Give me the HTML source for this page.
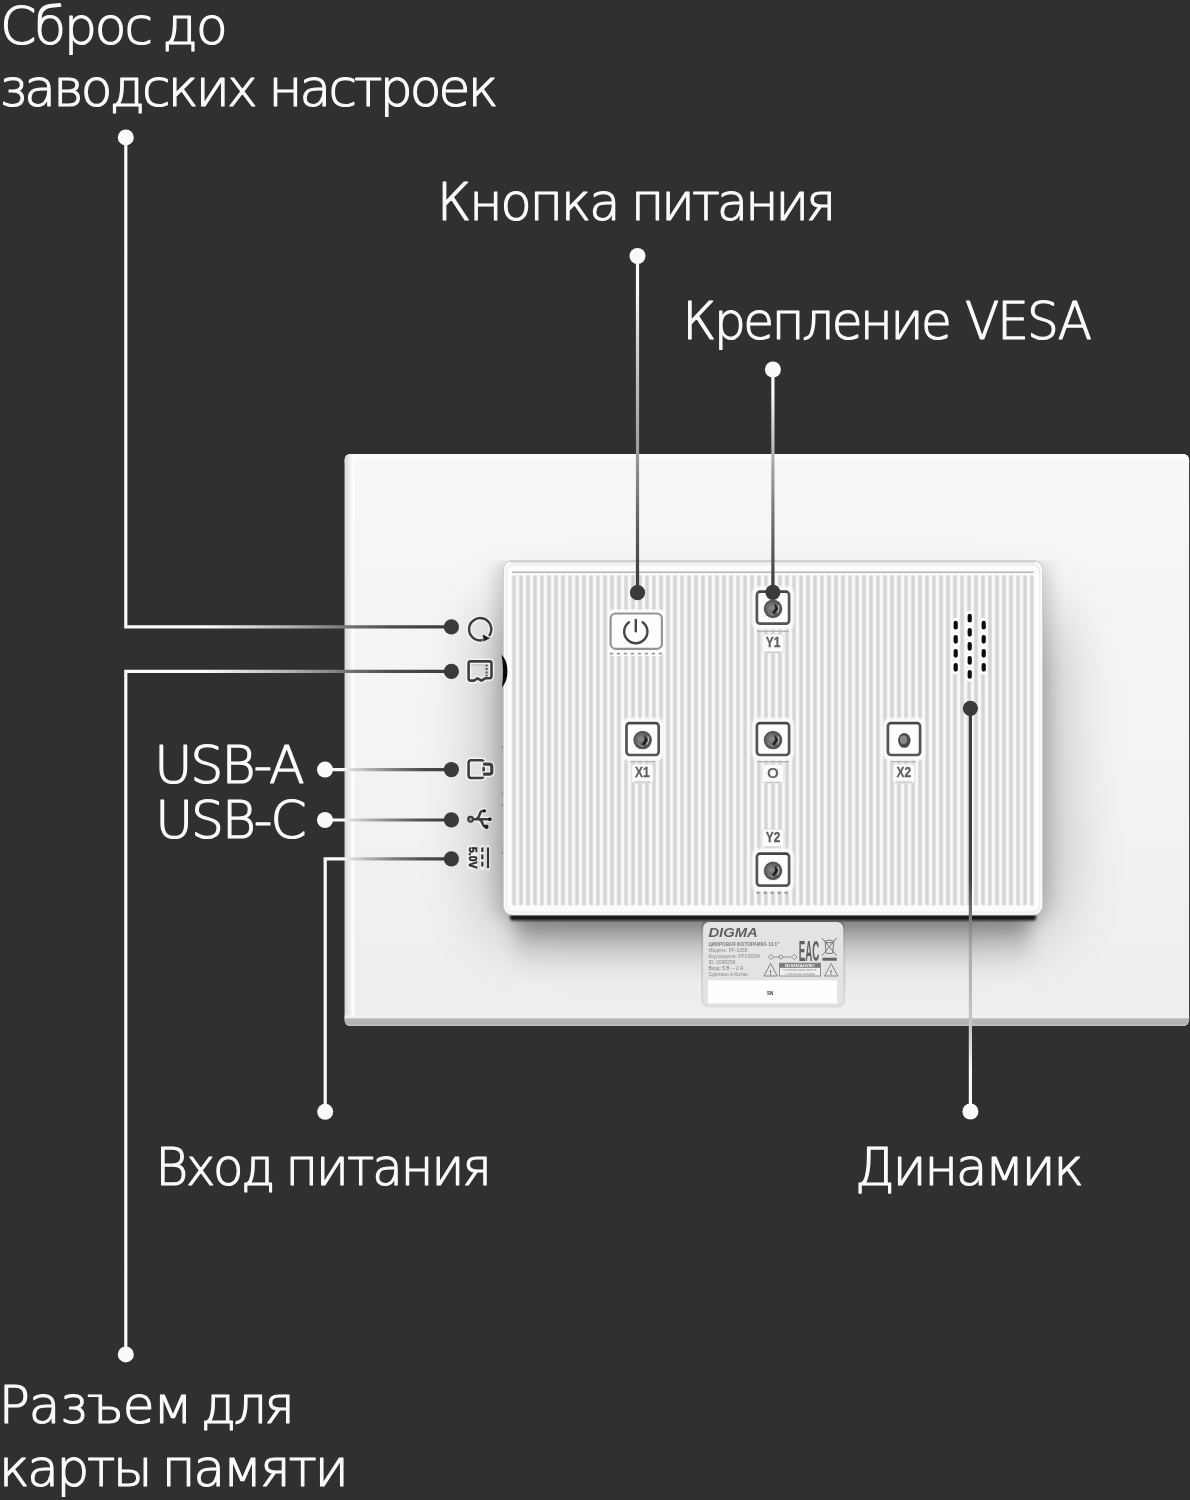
<!DOCTYPE html>
<html lang="ru">
<head>
<meta charset="utf-8">
<title>Digma — разъемы и кнопки</title>
<style>
html,body{margin:0;padding:0;background:#303032;}
body{width:1190px;height:1500px;overflow:hidden;}
svg{display:block;font-family:"Liberation Sans",sans-serif;will-change:transform;}
</style>
</head>
<body>
<svg width="1190" height="1500" viewBox="0 0 1190 1500">
<defs>
<linearGradient id="face" x1="0" y1="0" x2="0" y2="1">
<stop offset="0" stop-color="#f7f7f7"/><stop offset="0.45" stop-color="#f4f4f4"/><stop offset="1" stop-color="#eeeeee"/></linearGradient>
<linearGradient id="ledge" x1="0" y1="0" x2="1" y2="0">
<stop offset="0" stop-color="#d6d6d6"/><stop offset="0.45" stop-color="#ededed"/><stop offset="0.8" stop-color="#ffffff"/><stop offset="1" stop-color="#ffffff" stop-opacity="0"/></linearGradient>
<linearGradient id="bedge" x1="0" y1="0" x2="0" y2="1">
<stop offset="0" stop-color="#f4f4f4"/><stop offset="0.2" stop-color="#f0f0f0"/><stop offset="0.32" stop-color="#b6b6b6"/><stop offset="0.8" stop-color="#b2b2b2"/><stop offset="1" stop-color="#c8c8c8"/></linearGradient>
<linearGradient id="rib" x1="0" y1="0" x2="1" y2="0">
<stop offset="0" stop-color="#fcfcfc"/><stop offset="0.12" stop-color="#fcfcfc"/><stop offset="0.32" stop-color="#d5d5d5"/><stop offset="0.68" stop-color="#d5d5d5"/><stop offset="0.88" stop-color="#fcfcfc"/><stop offset="1" stop-color="#fcfcfc"/></linearGradient>
<pattern id="ribs" x="510.5" y="0" width="7" height="40" patternUnits="userSpaceOnUse"><rect x="0" y="0" width="7" height="40" fill="url(#rib)"/></pattern>
<linearGradient id="under" x1="0" y1="0" x2="0" y2="1">
<stop offset="0" stop-color="#000" stop-opacity="0.42"/><stop offset="0.16" stop-color="#000" stop-opacity="0.34"/><stop offset="0.4" stop-color="#000" stop-opacity="0.16"/><stop offset="0.7" stop-color="#000" stop-opacity="0.05"/><stop offset="1" stop-color="#000" stop-opacity="0"/></linearGradient>
<filter id="b5" x="-10%" y="-50%" width="120%" height="200%"><feGaussianBlur stdDeviation="5"/></filter>
<filter id="b05" x="-20%" y="-20%" width="140%" height="140%"><feGaussianBlur stdDeviation="0.6"/></filter>
<filter id="b3" x="-20%" y="-20%" width="140%" height="140%"><feGaussianBlur stdDeviation="3"/></filter>
<filter id="b8" x="-20%" y="-50%" width="140%" height="200%"><feGaussianBlur stdDeviation="9"/></filter>
<filter id="b30" x="-30%" y="-40%" width="160%" height="180%"><feGaussianBlur stdDeviation="35"/></filter>
<clipPath id="shclip"><rect x="344" y="560.5" width="846" height="470"/></clipPath>
<filter id="b1" x="-20%" y="-50%" width="140%" height="200%"><feGaussianBlur stdDeviation="1.1"/></filter>
<clipPath id="devclip"><rect x="344.5" y="454" width="844.7" height="572" rx="6"/></clipPath>
<radialGradient id="screw" cx="0.42" cy="0.45" r="0.6">
<stop offset="0" stop-color="#8e8e8e"/><stop offset="0.45" stop-color="#6a6a6a"/><stop offset="1" stop-color="#4a4a4a"/></radialGradient>
<linearGradient id="ring" x1="0" y1="0" x2="0" y2="1"><stop offset="0" stop-color="#5a5a5a"/><stop offset="0.12" stop-color="#9a9a9a"/><stop offset="0.4" stop-color="#c4c4c4"/><stop offset="1" stop-color="#dadada"/></linearGradient>
<linearGradient id="lg1" gradientUnits="userSpaceOnUse" x1="125.8" y1="0" x2="451.4" y2="0"><stop offset="0" stop-color="#fafafa"/><stop offset="0.25" stop-color="#fafafa"/><stop offset="0.5" stop-color="#b4b4b4"/><stop offset="0.68" stop-color="#747474"/><stop offset="0.82" stop-color="#4c4c4e"/><stop offset="1" stop-color="#3a3a3c"/></linearGradient>
<linearGradient id="lg2" gradientUnits="userSpaceOnUse" x1="125.8" y1="0" x2="451.4" y2="0"><stop offset="0" stop-color="#fafafa"/><stop offset="0.25" stop-color="#fafafa"/><stop offset="0.5" stop-color="#b4b4b4"/><stop offset="0.68" stop-color="#747474"/><stop offset="0.82" stop-color="#4c4c4e"/><stop offset="1" stop-color="#3a3a3c"/></linearGradient>
<linearGradient id="lg3" gradientUnits="userSpaceOnUse" x1="325" y1="0" x2="451.4" y2="0"><stop offset="0" stop-color="#fafafa"/><stop offset="0.14" stop-color="#fafafa"/><stop offset="0.2" stop-color="#dedede"/><stop offset="0.34" stop-color="#b4b4b4"/><stop offset="0.52" stop-color="#848484"/><stop offset="0.76" stop-color="#505052"/><stop offset="1" stop-color="#3a3a3c"/></linearGradient>
<linearGradient id="lg4" gradientUnits="userSpaceOnUse" x1="325" y1="0" x2="451.4" y2="0"><stop offset="0" stop-color="#fafafa"/><stop offset="0.14" stop-color="#fafafa"/><stop offset="0.2" stop-color="#dedede"/><stop offset="0.34" stop-color="#b4b4b4"/><stop offset="0.52" stop-color="#848484"/><stop offset="0.76" stop-color="#505052"/><stop offset="1" stop-color="#3a3a3c"/></linearGradient>
<linearGradient id="lg5" gradientUnits="userSpaceOnUse" x1="325" y1="0" x2="451.4" y2="0"><stop offset="0" stop-color="#fafafa"/><stop offset="0.14" stop-color="#fafafa"/><stop offset="0.2" stop-color="#dedede"/><stop offset="0.34" stop-color="#b4b4b4"/><stop offset="0.52" stop-color="#848484"/><stop offset="0.76" stop-color="#505052"/><stop offset="1" stop-color="#3a3a3c"/></linearGradient>
<linearGradient id="lg6" gradientUnits="userSpaceOnUse" x1="0" y1="256" x2="0" y2="592.7"><stop offset="0" stop-color="#fafafa"/><stop offset="0.1" stop-color="#fafafa"/><stop offset="0.27" stop-color="#d0d0d0"/><stop offset="0.59" stop-color="#9a9a9a"/><stop offset="0.78" stop-color="#646466"/><stop offset="0.92" stop-color="#464648"/><stop offset="1" stop-color="#3a3a3c"/></linearGradient>
<linearGradient id="lg7" gradientUnits="userSpaceOnUse" x1="0" y1="369.5" x2="0" y2="592.3"><stop offset="0" stop-color="#fafafa"/><stop offset="0.1" stop-color="#fafafa"/><stop offset="0.38" stop-color="#b2b2b2"/><stop offset="0.62" stop-color="#7c7c7c"/><stop offset="0.85" stop-color="#505052"/><stop offset="1" stop-color="#3a3a3c"/></linearGradient>
<linearGradient id="lg8" gradientUnits="userSpaceOnUse" x1="0" y1="708.4" x2="0" y2="1111.5"><stop offset="0" stop-color="#3a3a3c"/><stop offset="0.42" stop-color="#424244"/><stop offset="0.52" stop-color="#7a7a7a"/><stop offset="0.6" stop-color="#aaaaaa"/><stop offset="0.785" stop-color="#c6c6c6"/><stop offset="0.9" stop-color="#fafafa"/><stop offset="1" stop-color="#fafafa"/></linearGradient>
</defs>
<rect x="0" y="0" width="1190" height="1500" fill="#303032"/>
<g clip-path="url(#devclip)">
<rect x="344.5" y="454" width="845" height="572" fill="url(#face)"/>
<rect x="344.5" y="454" width="845" height="4.5" fill="#fefefe"/><rect x="344.5" y="458.5" width="845" height="4" fill="#f9f9f9"/>
<rect x="493" y="612" width="559" height="315" rx="14" fill="#000" opacity="0.29" filter="url(#b30)"/>
<g clip-path="url(#shclip)"><rect x="497" y="562" width="551" height="356" rx="10" fill="#000" opacity="0.16" filter="url(#b8)"/></g>
<path d="M503.2 572 V906" stroke="#8c8c8c" stroke-width="1.6" fill="none" filter="url(#b05)"/>
<rect x="516" y="912" width="514" height="62" rx="4" fill="url(#under)" filter="url(#b8)"/>
<rect x="344.5" y="454" width="11" height="572" fill="url(#ledge)"/>
<rect x="344.5" y="1015.5" width="845" height="10.5" fill="url(#bedge)"/>
</g>
<rect x="510" y="914.2" width="526" height="6.4" rx="3" fill="#131313" filter="url(#b1)"/>
<rect x="503.5" y="560.5" width="539" height="354.5" rx="9" fill="#fcfcfc" stroke="#cfcfcf" stroke-width="1"/>
<path d="M511 561.6 H1035" stroke="#d4d4d4" stroke-width="2.2" stroke-linecap="round" fill="none"/>
<rect x="506.3" y="564.6" width="533.4" height="347.6" rx="7" fill="none" stroke="#eeeeee" stroke-width="1.6"/>
<rect x="511.6" y="575.2" width="522.4" height="330" rx="1.5" fill="url(#ribs)"/>
<rect x="512" y="571.4" width="521.6" height="1.7" fill="#b9b9b9"/>
<rect x="608.2" y="609.4" width="56.6" height="46.6" rx="5" fill="#fcfcfc" filter="url(#b05)"/>
<rect x="610.6" y="613.5" width="51.3" height="35.3" rx="5" fill="#fdfdfd" stroke="#939393" stroke-width="2.2"/>
<path d="M628.98 622.22 A11.6 11.6 0 1 0 642.62 622.22" fill="none" stroke="#464646" stroke-width="2.4" stroke-linecap="round"/>
<line x1="635.8" y1="620" x2="635.8" y2="631.2" stroke="#464646" stroke-width="2.4" stroke-linecap="round"/>
<line x1="609.8" y1="653.6" x2="663.5" y2="653.6" stroke="#969696" stroke-width="1.9" stroke-dasharray="3.2 3.8"/>
<rect x="752" y="586.6" width="42" height="42.6" rx="7" fill="#fcfcfc" filter="url(#b1)"/>
<rect x="756.9" y="591.7" width="32.2" height="32" rx="3.2" fill="#fdfdfd" stroke="#555555" stroke-width="2.7"/>
<rect x="758" y="590.8" width="30" height="2.2" rx="1" fill="#444"/>
<circle cx="773" cy="608.8" r="9.7" fill="#d0d0d0"/>
<circle cx="773" cy="608.8" r="8.9" fill="url(#screw)"/>
<circle cx="773" cy="608.8" r="8.3" fill="none" stroke="#525252" stroke-width="1.4"/>
<path d="M774.8 603.4 L778 608.5999999999999 L774 614.4 L772.4 612.5999999999999 L775.2 608.8 Z" fill="#1c1c1c"/>
<path d="M778.4 604.9 Q780.1 608.8 777.5 613.3" fill="none" stroke="#c9c9c9" stroke-width="1"/>
<path d="M768.2 611.8 Q770.8 615.0999999999999 773.8 615.4" fill="none" stroke="#a5a5a5" stroke-width="0.9"/>
<rect x="757" y="630.6" width="32" height="1.5" fill="#b5b5b5"/>
<rect x="762" y="634.3" width="22" height="19" rx="3" fill="#fbfbfb" stroke="#dcdcdc" stroke-width="0.8" filter="url(#b05)"/>
<rect x="765" y="651.5999999999999" width="16" height="1.2" fill="#c4c4c4"/>
<text x="773" y="647.4" font-size="15.2" font-weight="bold" text-anchor="middle" textLength="14.6" lengthAdjust="spacingAndGlyphs" fill="#5e5e5e" stroke="#5e5e5e" stroke-width="0.3">Y1</text>
<rect x="621.6" y="717.9" width="42" height="42.6" rx="7" fill="#fcfcfc" filter="url(#b1)"/>
<rect x="626.5" y="723.0" width="32.2" height="32" rx="3.2" fill="#fdfdfd" stroke="#555555" stroke-width="2.7"/>
<rect x="627.6" y="722.0999999999999" width="30" height="2.2" rx="1" fill="#444"/>
<circle cx="642.6" cy="740.0999999999999" r="9.7" fill="#d0d0d0"/>
<circle cx="642.6" cy="740.0999999999999" r="8.9" fill="url(#screw)"/>
<circle cx="642.6" cy="740.0999999999999" r="8.3" fill="none" stroke="#525252" stroke-width="1.4"/>
<path d="M644.4 734.6999999999999 L647.6 739.8999999999999 L643.6 745.6999999999999 L642.0 743.8999999999999 L644.8000000000001 740.0999999999999 Z" fill="#1c1c1c"/>
<path d="M648.0 736.1999999999999 Q649.7 740.0999999999999 647.1 744.5999999999999" fill="none" stroke="#c9c9c9" stroke-width="1"/>
<path d="M637.8000000000001 743.0999999999999 Q640.4 746.3999999999999 643.4 746.6999999999999" fill="none" stroke="#a5a5a5" stroke-width="0.9"/>
<rect x="630" y="761" width="25" height="1.3" fill="#b5b5b5"/>
<rect x="631.3" y="764.1" width="22" height="19" rx="3" fill="#fbfbfb" stroke="#dcdcdc" stroke-width="0.8" filter="url(#b05)"/>
<rect x="634.3" y="781.4" width="16" height="1.2" fill="#c4c4c4"/>
<text x="642.3" y="777.2" font-size="15.2" font-weight="bold" text-anchor="middle" textLength="14.6" lengthAdjust="spacingAndGlyphs" fill="#5e5e5e" stroke="#5e5e5e" stroke-width="0.3">X1</text>
<rect x="752" y="717.9" width="42" height="42.6" rx="7" fill="#fcfcfc" filter="url(#b1)"/>
<rect x="756.9" y="723.0" width="32.2" height="32" rx="3.2" fill="#fdfdfd" stroke="#555555" stroke-width="2.7"/>
<rect x="758" y="722.0999999999999" width="30" height="2.2" rx="1" fill="#444"/>
<circle cx="773" cy="740.0999999999999" r="9.7" fill="#d0d0d0"/>
<circle cx="773" cy="740.0999999999999" r="8.9" fill="url(#screw)"/>
<circle cx="773" cy="740.0999999999999" r="8.3" fill="none" stroke="#525252" stroke-width="1.4"/>
<path d="M774.8 734.6999999999999 L778 739.8999999999999 L774 745.6999999999999 L772.4 743.8999999999999 L775.2 740.0999999999999 Z" fill="#1c1c1c"/>
<path d="M778.4 736.1999999999999 Q780.1 740.0999999999999 777.5 744.5999999999999" fill="none" stroke="#c9c9c9" stroke-width="1"/>
<path d="M768.2 743.0999999999999 Q770.8 746.3999999999999 773.8 746.6999999999999" fill="none" stroke="#a5a5a5" stroke-width="0.9"/>
<rect x="757" y="761" width="32" height="1.5" fill="#b5b5b5"/>
<rect x="762" y="764.4" width="22" height="19" rx="3" fill="#fbfbfb" stroke="#dcdcdc" stroke-width="0.8" filter="url(#b05)"/>
<rect x="765" y="781.6999999999999" width="16" height="1.2" fill="#c4c4c4"/>
<text x="773" y="778.0" font-size="15.2" font-weight="bold" text-anchor="middle" fill="#666666">O</text>
<rect x="883" y="717.9" width="42" height="42.6" rx="7" fill="#fcfcfc" filter="url(#b1)"/>
<rect x="887.9" y="723.0" width="32.2" height="32" rx="3.2" fill="#fdfdfd" stroke="#555555" stroke-width="2.7"/>
<rect x="889" y="722.0999999999999" width="30" height="2.2" rx="1" fill="#444"/>
<ellipse cx="904.3" cy="740.3999999999999" rx="6.2" ry="7.4" fill="#4a4a4a"/>
<ellipse cx="903.5" cy="739.6999999999999" rx="3.6" ry="4.3" fill="#8a8a8a"/>
<rect x="891" y="761" width="25" height="1.3" fill="#b5b5b5"/>
<rect x="892.8" y="764.1" width="22" height="19" rx="3" fill="#fbfbfb" stroke="#dcdcdc" stroke-width="0.8" filter="url(#b05)"/>
<rect x="895.8" y="781.4" width="16" height="1.2" fill="#c4c4c4"/>
<text x="903.8" y="777.2" font-size="15.2" font-weight="bold" text-anchor="middle" textLength="14.6" lengthAdjust="spacingAndGlyphs" fill="#5e5e5e" stroke="#5e5e5e" stroke-width="0.3">X2</text>
<rect x="762" y="829.2" width="22" height="19" rx="3" fill="#fbfbfb" stroke="#dcdcdc" stroke-width="0.8" filter="url(#b05)"/>
<rect x="765" y="846.5" width="16" height="1.2" fill="#c4c4c4"/>
<text x="773" y="842.3000000000001" font-size="15.2" font-weight="bold" text-anchor="middle" textLength="14.6" lengthAdjust="spacingAndGlyphs" fill="#5e5e5e" stroke="#5e5e5e" stroke-width="0.3">Y2</text>
<rect x="752" y="848.6" width="42" height="42.6" rx="7" fill="#fcfcfc" filter="url(#b1)"/>
<rect x="756.9" y="853.7" width="32.2" height="32" rx="3.2" fill="#fdfdfd" stroke="#555555" stroke-width="2.7"/>
<rect x="758" y="852.8" width="30" height="2.2" rx="1" fill="#444"/>
<circle cx="773" cy="870.8" r="9.7" fill="#d0d0d0"/>
<circle cx="773" cy="870.8" r="8.9" fill="url(#screw)"/>
<circle cx="773" cy="870.8" r="8.3" fill="none" stroke="#525252" stroke-width="1.4"/>
<path d="M774.8 865.4 L778 870.5999999999999 L774 876.4 L772.4 874.5999999999999 L775.2 870.8 Z" fill="#1c1c1c"/>
<path d="M778.4 866.9 Q780.1 870.8 777.5 875.3" fill="none" stroke="#c9c9c9" stroke-width="1"/>
<path d="M768.2 873.8 Q770.8 877.0999999999999 773.8 877.4" fill="none" stroke="#a5a5a5" stroke-width="0.9"/>
<line x1="756.5" y1="892.8" x2="790" y2="892.8" stroke="#969696" stroke-width="1.9" stroke-dasharray="3.2 3.8"/>
<rect x="951.7" y="618.0" width="8" height="14.4" rx="4" fill="#fdfdfd"/>
<rect x="951.7" y="632.0999999999999" width="8" height="14.4" rx="4" fill="#fdfdfd"/>
<rect x="951.7" y="646.0999999999999" width="8" height="14.4" rx="4" fill="#fdfdfd"/>
<rect x="951.7" y="660.0999999999999" width="8" height="14.4" rx="4" fill="#fdfdfd"/>
<rect x="965.7" y="611.0" width="8" height="14.4" rx="4" fill="#fdfdfd"/>
<rect x="965.7" y="625.0999999999999" width="8" height="14.4" rx="4" fill="#fdfdfd"/>
<rect x="965.7" y="639.0999999999999" width="8" height="14.4" rx="4" fill="#fdfdfd"/>
<rect x="965.7" y="653.1999999999999" width="8" height="14.4" rx="4" fill="#fdfdfd"/>
<rect x="965.7" y="667.1999999999999" width="8" height="14.4" rx="4" fill="#fdfdfd"/>
<rect x="979.7" y="618.0" width="8" height="14.4" rx="4" fill="#fdfdfd"/>
<rect x="979.7" y="632.0999999999999" width="8" height="14.4" rx="4" fill="#fdfdfd"/>
<rect x="979.7" y="646.0999999999999" width="8" height="14.4" rx="4" fill="#fdfdfd"/>
<rect x="979.7" y="660.0999999999999" width="8" height="14.4" rx="4" fill="#fdfdfd"/>
<rect x="953.6" y="620.8000000000001" width="4.2" height="8.8" rx="2.1" fill="#0c0c0c"/>
<rect x="953.6" y="634.9" width="4.2" height="8.8" rx="2.1" fill="#0c0c0c"/>
<rect x="953.6" y="648.9" width="4.2" height="8.8" rx="2.1" fill="#0c0c0c"/>
<rect x="953.6" y="662.9" width="4.2" height="8.8" rx="2.1" fill="#0c0c0c"/>
<rect x="967.6" y="613.8000000000001" width="4.2" height="8.8" rx="2.1" fill="#0c0c0c"/>
<rect x="967.6" y="627.9" width="4.2" height="8.8" rx="2.1" fill="#0c0c0c"/>
<rect x="967.6" y="641.9" width="4.2" height="8.8" rx="2.1" fill="#0c0c0c"/>
<rect x="967.6" y="656.0" width="4.2" height="8.8" rx="2.1" fill="#0c0c0c"/>
<rect x="967.6" y="670.0" width="4.2" height="8.8" rx="2.1" fill="#0c0c0c"/>
<rect x="981.6" y="620.8000000000001" width="4.2" height="8.8" rx="2.1" fill="#0c0c0c"/>
<rect x="981.6" y="634.9" width="4.2" height="8.8" rx="2.1" fill="#0c0c0c"/>
<rect x="981.6" y="648.9" width="4.2" height="8.8" rx="2.1" fill="#0c0c0c"/>
<rect x="981.6" y="662.9" width="4.2" height="8.8" rx="2.1" fill="#0c0c0c"/>
<path d="M483.3 639.9 A11.1 11.1 0 1 1 489.6 635.1" fill="none" stroke="#f7f7f7" stroke-width="5.5" stroke-linecap="round" stroke-linejoin="round" opacity="0.85"/>
<path d="M483.3 639.9 A11.1 11.1 0 1 1 489.6 635.1" fill="none" stroke="#3e3e3e" stroke-width="2.5" stroke-linecap="round" stroke-linejoin="round" />
<circle cx="479.4" cy="629.4" r="8" fill="#e2e2e2" opacity="0.6"/>
<path d="M482.4 633.9 L490.6 638.3 L483.2 642.1 Z" fill="#1e1e1e" stroke="#f7f7f7" stroke-width="0.6"/>
<path d="M468.6 663.3 Q468.6 661.4 470.5 661.4 L489.6 661.4 Q491.5 661.4 491.5 663.3 L491.5 676.3 Q491.5 678.3 489.5 678.3 L485.2 678.3 L481.4 680.6 L477.6 678.3 L473.9 680.6 L470.3 680.6 Q468.6 680.6 468.6 678.6 Z" fill="none" stroke="#f7f7f7" stroke-width="5.6" stroke-linecap="round" stroke-linejoin="round" opacity="0.85"/>
<path d="M468.6 663.3 Q468.6 661.4 470.5 661.4 L489.6 661.4 Q491.5 661.4 491.5 663.3 L491.5 676.3 Q491.5 678.3 489.5 678.3 L485.2 678.3 L481.4 680.6 L477.6 678.3 L473.9 680.6 L470.3 680.6 Q468.6 680.6 468.6 678.6 Z" fill="none" stroke="#3e3e3e" stroke-width="2.6" stroke-linecap="round" stroke-linejoin="round" />
<line x1="486.6" y1="664.6" x2="486.6" y2="676.5" stroke="#555" stroke-width="2" stroke-dasharray="2 1.4"/>
<rect x="471" y="664.2" width="13.5" height="1.6" fill="#c8c8c8"/>
<path d="M501.6 654.8 Q507.6 661 507.4 671 Q507.6 681 502 687.4 Q504.2 671 501.6 654.8 Z" fill="#0a0a0a"/>
<path d="M468.6 762.8 Q468.6 760.3 471 760.3 L481.3 760.3 Q483.7 760.3 483.7 762.8 L483.7 775.6 Q483.7 778 481.3 778 L471 778 Q468.6 778 468.6 775.6 Z" fill="none" stroke="#f7f7f7" stroke-width="5.6" stroke-linecap="round" stroke-linejoin="round" opacity="0.85"/>
<path d="M468.6 762.8 Q468.6 760.3 471 760.3 L481.3 760.3 Q483.7 760.3 483.7 762.8 L483.7 775.6 Q483.7 778 481.3 778 L471 778 Q468.6 778 468.6 775.6 Z" fill="none" stroke="#3e3e3e" stroke-width="2.6" stroke-linecap="round" stroke-linejoin="round" />
<path d="M484.6 764.2 L489 764.2 Q491.8 764.2 491.8 767 L491.8 771.4 Q491.8 774.2 489 774.2 L484.6 774.2" fill="none" stroke="#f7f7f7" stroke-width="6.2" stroke-linecap="round" stroke-linejoin="round" opacity="0.85"/>
<path d="M484.6 764.2 L489 764.2 Q491.8 764.2 491.8 767 L491.8 771.4 Q491.8 774.2 489 774.2 L484.6 774.2" fill="none" stroke="#3e3e3e" stroke-width="3.2" stroke-linecap="round" stroke-linejoin="round" />
<rect x="471.3" y="763" width="9.8" height="12.2" fill="#e4e4e4" opacity="0.8"/>
<path d="M472.8 819.2 L489.6 819.2 M474.8 819.2 Q478.6 819 479.8 814 Q480.6 810.8 484 810.8 M478.6 819.2 Q481.6 819.6 482.6 823.6 Q483.4 826.6 486 826.6" fill="none" stroke="#f7f7f7" stroke-width="5.6" stroke-linecap="round" stroke-linejoin="round" opacity="0.85"/>
<path d="M472.8 819.2 L489.6 819.2 M474.8 819.2 Q478.6 819 479.8 814 Q480.6 810.8 484 810.8 M478.6 819.2 Q481.6 819.6 482.6 823.6 Q483.4 826.6 486 826.6" fill="none" stroke="#3e3e3e" stroke-width="2.6" stroke-linecap="round" stroke-linejoin="round" />
<circle cx="470.6" cy="819.2" r="2.5" fill="#9a9a9a" stroke="#3e3e3e" stroke-width="1.9"/>
<circle cx="489.8" cy="819.2" r="1.9" fill="#1e1e1e"/><circle cx="484.4" cy="810.9" r="1.7" fill="#1e1e1e"/><circle cx="486.4" cy="826.7" r="2.2" fill="#1e1e1e"/>
<rect x="467" y="845.6" width="10.6" height="24" rx="3" fill="#f7f7f7" opacity="0.75" filter="url(#b1)"/>
<path d="M482.3 847.4 V868.2 M488 847.4 V868.2" stroke="#f7f7f7" stroke-width="4.6" opacity="0.7" stroke-linecap="round"/>
<text transform="translate(468.6,847) rotate(90)" font-size="11" font-weight="bold" textLength="21.4" lengthAdjust="spacingAndGlyphs" fill="#2a2a2a" stroke="#2a2a2a" stroke-width="0.55">5.0V</text>
<line x1="482.3" y1="847.4" x2="482.3" y2="868.2" stroke="#333" stroke-width="2.2" stroke-dasharray="4.6 2.6"/>
<line x1="488" y1="847.4" x2="488" y2="868.2" stroke="#333" stroke-width="2.2"/>
<rect x="501.2" y="746.0" width="2.2" height="2.6" rx="1" fill="#9a9a9a"/>
<rect x="501.2" y="792.2" width="2.2" height="2.6" rx="1" fill="#9a9a9a"/>
<rect x="501.2" y="803.7" width="2.2" height="2.6" rx="1" fill="#9a9a9a"/>
<rect x="501.2" y="851.4000000000001" width="2.2" height="2.6" rx="1" fill="#9a9a9a"/>
<rect x="701" y="920.2" width="144.4" height="87.4" rx="8" fill="url(#ring)" opacity="0.9"/>
<rect x="703.1" y="922.1" width="140.1" height="83" rx="6" fill="#e3e3e3"/>
<rect x="707.9" y="980.3" width="129.2" height="23.1" fill="#fefefe"/>
<text x="708.4" y="936.5" font-size="12.2" font-weight="bold" font-style="italic" textLength="49.4" lengthAdjust="spacingAndGlyphs" fill="#606060">DIGMA</text>
<text x="708.4" y="945.6" font-size="5.2" font-weight="bold" text-anchor="start" textLength="71" lengthAdjust="spacingAndGlyphs" fill="#7c7c7c">ЦИФРОВАЯ ФОТОРАМКА 10.1"</text>
<text x="708.4" y="951.7" font-size="5.2" text-anchor="start" textLength="39" lengthAdjust="spacingAndGlyphs" fill="#8a8a8a">Модель: PF-1065</text>
<text x="708.4" y="957.8" font-size="5.2" text-anchor="start" textLength="52" lengthAdjust="spacingAndGlyphs" fill="#8a8a8a">Код модели: PF1065W</text>
<text x="708.4" y="963.9" font-size="5.2" text-anchor="start" textLength="27" lengthAdjust="spacingAndGlyphs" fill="#8a8a8a">ID: 2098256</text>
<text x="708.4" y="970" font-size="5.2" text-anchor="start" textLength="35" lengthAdjust="spacingAndGlyphs" fill="#7c7c7c">Вход: 5 В ⎓ 2 А</text>
<text x="708.4" y="976.1" font-size="5.2" text-anchor="start" textLength="39.5" lengthAdjust="spacingAndGlyphs" fill="#8a8a8a">Сделано в Китае</text>
<text x="770.2" y="994.6" font-size="5" font-weight="bold" text-anchor="middle" textLength="6.4" lengthAdjust="spacingAndGlyphs" fill="#3a3a3a">SN</text>
<text x="798.8" y="960.6" font-size="28.6" font-weight="bold" textLength="20.6" lengthAdjust="spacingAndGlyphs" fill="#606060">EAC</text>
<g fill="none" stroke="#8a8a8a" stroke-width="0.9"><path d="M768.5 957 L771 954.4 L773.5 957 L771 959.6 Z M773.5 957 H780 M780.8 957 m-2 0 a2 2 0 1 0 4 0 a2 2 0 1 0 -4 0 M783 957 H791.5 M791.5 957 L794.2 954.3 L797 957 L794.2 959.7 Z"/></g>
<g fill="none" stroke="#777" stroke-width="1"><path d="M822 938 L836.6 955.5 M836.6 938 L822 955.5"/><path d="M825.2 942.6 H833.6 L832.6 953.4 H826.2 Z"/><path d="M824.4 941.4 Q829.4 938.6 834.4 941.4"/></g>
<rect x="822.4" y="957.7" width="14.4" height="3" fill="#666"/>
<path d="M770.6 963.4 L777.2 976 L764.0 976 Z" fill="none" stroke="#7a7a7a" stroke-width="0.9" stroke-linejoin="round"/>
<text x="770.6" y="974.8" font-size="8" font-weight="bold" text-anchor="middle" fill="#7a7a7a">!</text>
<path d="M831.2 963.4 L837.8000000000001 976 L824.6 976 Z" fill="none" stroke="#7a7a7a" stroke-width="0.9" stroke-linejoin="round"/>
<text x="831.2" y="974.8" font-size="8" font-weight="bold" text-anchor="middle" fill="#7a7a7a">!</text>
<rect x="779.4" y="963.2" width="41.2" height="12.8" fill="#f0f0f0" stroke="#7a7a7a" stroke-width="0.8"/>
<rect x="779.4" y="963.2" width="41.2" height="4.6" fill="#7a7a7a"/>
<text x="800" y="967" font-size="4.2" font-weight="bold" text-anchor="middle" textLength="30" lengthAdjust="spacingAndGlyphs" fill="#f0f0f0">ВНИМАНИЕ!</text>
<text x="800" y="971" font-size="3.2" text-anchor="middle" textLength="33" lengthAdjust="spacingAndGlyphs" fill="#8a8a8a">не выбрасывать вместе</text>
<text x="800" y="974.6" font-size="3.2" text-anchor="middle" textLength="30" lengthAdjust="spacingAndGlyphs" fill="#8a8a8a">с бытовыми отходами</text>
<path d="M125.8 137.4 V626.8 H451.4" fill="none" stroke="url(#lg1)" stroke-width="3.2" stroke-linejoin="miter"/>
<circle cx="125.8" cy="137.4" r="8" fill="#fafafa"/>
<circle cx="451.4" cy="626.9" r="7.6" fill="#3a3a3c"/>
<path d="M125.8 1354.4 V671.4 H451.4" fill="none" stroke="url(#lg2)" stroke-width="3.2" stroke-linejoin="miter"/>
<circle cx="125.8" cy="1354.4" r="8" fill="#fafafa"/>
<circle cx="451.4" cy="671.4" r="7.6" fill="#3a3a3c"/>
<path d="M325 769.6 H451.4" fill="none" stroke="url(#lg3)" stroke-width="3.2" stroke-linejoin="miter"/>
<circle cx="325" cy="769.6" r="8" fill="#fafafa"/>
<circle cx="451.4" cy="769.6" r="7.6" fill="#3a3a3c"/>
<path d="M325 820 H451.4" fill="none" stroke="url(#lg4)" stroke-width="3.2" stroke-linejoin="miter"/>
<circle cx="325" cy="820" r="8" fill="#fafafa"/>
<circle cx="451.4" cy="819.8" r="7.6" fill="#3a3a3c"/>
<path d="M325.2 1111.8 V858.8 H451.4" fill="none" stroke="url(#lg5)" stroke-width="3.2" stroke-linejoin="miter"/>
<circle cx="325.2" cy="1111.8" r="8" fill="#fafafa"/>
<circle cx="451.4" cy="858.8" r="7.6" fill="#3a3a3c"/>
<path d="M637.5 256 V592.7" fill="none" stroke="url(#lg6)" stroke-width="3.2" stroke-linejoin="miter"/>
<circle cx="637.5" cy="256" r="8" fill="#fafafa"/>
<circle cx="637.5" cy="592.7" r="7.6" fill="#3a3a3c"/>
<path d="M772.9 369.5 V592.3" fill="none" stroke="url(#lg7)" stroke-width="3.2" stroke-linejoin="miter"/>
<circle cx="772.9" cy="369.5" r="8" fill="#fafafa"/>
<circle cx="772.9" cy="592.3" r="7.6" fill="#3a3a3c"/>
<path d="M970.4 708.4 V1111.5" fill="none" stroke="url(#lg8)" stroke-width="3.2" stroke-linejoin="miter"/>
<circle cx="970.4" cy="708.4" r="7.6" fill="#3a3a3c"/>
<circle cx="970.4" cy="1111.5" r="8" fill="#fafafa"/>
<text transform="scale(1.0171,1)" font-family="'DejaVu Sans Light','DejaVu Sans','Liberation Sans',sans-serif" font-weight="200" font-size="50.9" fill="#fafafa" stroke="#fafafa" stroke-width="1.2" stroke-linejoin="round"><tspan x="0.20" y="44.20" letter-spacing="-2.000">Сброс</tspan> <tspan x="159.79" y="44.20" letter-spacing="-1.572">до</tspan> <tspan x="-1.04" y="106.50" letter-spacing="-2.702">заводских</tspan> <tspan x="264.04" y="106.50" letter-spacing="-2.768">настроек</tspan></text>
<text transform="scale(0.9994,1)" font-family="'DejaVu Sans Light','DejaVu Sans','Liberation Sans',sans-serif" font-weight="200" font-size="50.9" fill="#fafafa" stroke="#fafafa" stroke-width="1.2" stroke-linejoin="round"><tspan x="437.31" y="219.70" letter-spacing="-2.000">Кнопка</tspan> <tspan x="631.43" y="219.70" letter-spacing="-2.936">питания</tspan></text>
<text transform="scale(0.9847,1)" font-family="'DejaVu Sans Light','DejaVu Sans','Liberation Sans',sans-serif" font-weight="200" font-size="50.9" fill="#fafafa" stroke="#fafafa" stroke-width="1.2" stroke-linejoin="round"><tspan x="693.17" y="338.60" letter-spacing="-2.458">Крепление</tspan> <tspan x="980.04" y="338.60" letter-spacing="-2.000">VESA</tspan></text>
<text transform="scale(1.0243,1)" font-family="'DejaVu Sans Light','DejaVu Sans','Liberation Sans',sans-serif" font-weight="200" font-size="50.9" fill="#fafafa" stroke="#fafafa" stroke-width="1.2" stroke-linejoin="round"><tspan x="150.61" y="783.40" letter-spacing="-2.000">USB-A</tspan></text>
<text transform="scale(1.0187,1)" font-family="'DejaVu Sans Light','DejaVu Sans','Liberation Sans',sans-serif" font-weight="200" font-size="50.9" fill="#fafafa" stroke="#fafafa" stroke-width="1.2" stroke-linejoin="round"><tspan x="152.35" y="838.50" letter-spacing="-2.000">USB-C</tspan></text>
<text transform="scale(0.9787,1)" font-family="'DejaVu Sans Light','DejaVu Sans','Liberation Sans',sans-serif" font-weight="200" font-size="50.9" fill="#fafafa" stroke="#fafafa" stroke-width="1.2" stroke-linejoin="round"><tspan x="158.95" y="1184.90" letter-spacing="-2.341">Вход</tspan> <tspan x="291.67" y="1184.90" letter-spacing="-2.000">питания</tspan></text>
<text transform="scale(1.0056,1)" font-family="'DejaVu Sans Light','DejaVu Sans','Liberation Sans',sans-serif" font-weight="200" font-size="50.9" fill="#fafafa" stroke="#fafafa" stroke-width="1.2" stroke-linejoin="round"><tspan x="850.31" y="1185.00" letter-spacing="-2.000">Динамик</tspan></text>
<text transform="scale(1.0143,1)" font-family="'DejaVu Sans Light','DejaVu Sans','Liberation Sans',sans-serif" font-weight="200" font-size="50.9" fill="#fafafa" stroke="#fafafa" stroke-width="1.2" stroke-linejoin="round"><tspan x="-1.18" y="1423.40" letter-spacing="-1.045">Разъем</tspan> <tspan x="198.29" y="1423.40" letter-spacing="-2.317">для</tspan> <tspan x="-0.92" y="1486.00" letter-spacing="-2.344">карты</tspan> <tspan x="159.48" y="1486.00" letter-spacing="-2.000">памяти</tspan></text>
</svg>
</body>
</html>
